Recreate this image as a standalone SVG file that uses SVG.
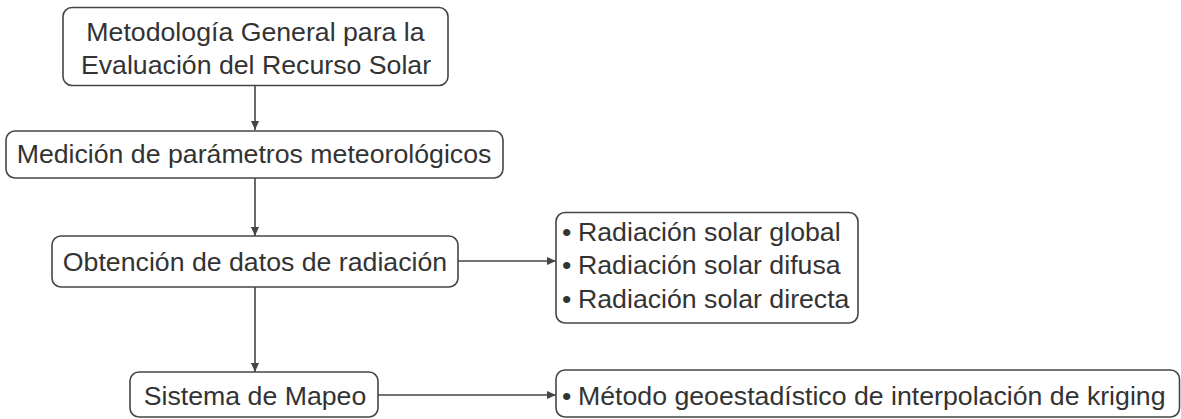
<svg xmlns="http://www.w3.org/2000/svg" width="1181" height="419" viewBox="0 0 1181 419">
<defs>
<style>
.box{fill:#ffffff;stroke:#454545;stroke-width:1.6}
.t{font-size:26.7px;fill:#333333}
.m{text-anchor:middle}
.c{fill:none;stroke:#454545;stroke-width:1.6}
</style>
<marker id="ah" markerUnits="userSpaceOnUse" markerWidth="10" markerHeight="10" viewBox="0 0 10 10" refX="9" refY="5" orient="auto">
<path d="M0,1 L9,5 L0,9 Z" fill="#454545"/>
</marker>
</defs>
<rect width="1181" height="419" fill="#ffffff"/>
<g id="connectors">
<line class="c" x1="255" y1="86" x2="255" y2="130" marker-end="url(#ah)"/>
<line class="c" x1="255" y1="178" x2="255" y2="236" marker-end="url(#ah)"/>
<line class="c" x1="255" y1="287" x2="255" y2="372" marker-end="url(#ah)"/>
<line class="c" x1="458" y1="261" x2="556" y2="261" marker-end="url(#ah)"/>
<line class="c" x1="378" y1="395" x2="556" y2="395" marker-end="url(#ah)"/>
</g>
<g font-family="Liberation Sans, Arial, sans-serif">
<g id="n1">
<rect class="box" x="63" y="7.5" width="385" height="78" rx="9"/>
<text class="t m" x="255.5" y="41">Metodología General para la</text>
<text class="t m" x="256" y="74">Evaluación del Recurso Solar</text>
</g>
<g id="n2">
<rect class="box" x="6" y="131" width="497" height="47" rx="9"/>
<text class="t m" x="254" y="163">Medición de parámetros meteorológicos</text>
</g>
<g id="n3">
<rect class="box" x="52" y="236" width="406" height="51" rx="9"/>
<text class="t m" x="255" y="271">Obtención de datos de radiación</text>
</g>
<g id="n4">
<rect class="box" x="130" y="372" width="248" height="45" rx="9"/>
<text class="t m" x="255" y="404.5">Sistema de Mapeo</text>
</g>
<g id="n5">
<rect class="box" x="556" y="212.5" width="302" height="110.5" rx="9"/>
<text class="t"><tspan x="562" y="240.5">•</tspan><tspan x="578" y="240.5">Radiación solar global</tspan></text>
<text class="t"><tspan x="562" y="274">•</tspan><tspan x="578" y="274">Radiación solar difusa</tspan></text>
<text class="t"><tspan x="562" y="307.5">•</tspan><tspan x="578" y="307.5">Radiación solar directa</tspan></text>
</g>
<g id="n6">
<rect class="box" x="556" y="370" width="623.5" height="47" rx="9"/>
<text class="t"><tspan x="562" y="404.5">•</tspan><tspan x="578" y="404.5">Método geoestadístico de interpolación de kriging</tspan></text>
</g>
</g>
</svg>
